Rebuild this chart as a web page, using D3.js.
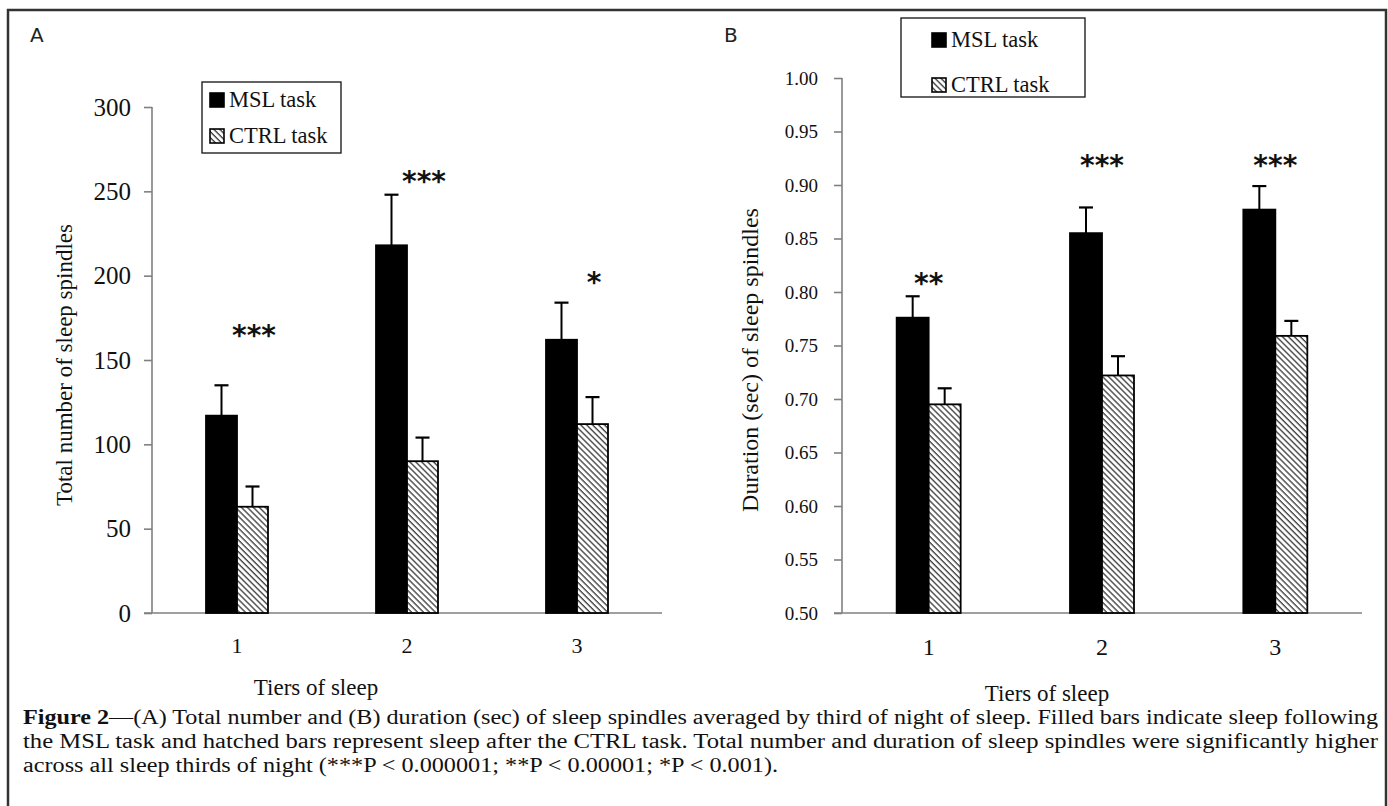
<!DOCTYPE html>
<html>
<head>
<meta charset="utf-8">
<script src="https://cdn.jsdelivr.net/npm/d3@7"></script>
<style>
  html, body { margin: 0; padding: 0; background: #fff; }
  svg { display: block; }
</style>
</head>
<body>
<svg id="chart" width="1388" height="806"></svg>
<script>
// ---------- data ----------
const tiers = ["1", "2", "3"];
const seriesNames = ["MSL task", "CTRL task"];

// Panel A: total number of sleep spindles
const countTicks = [0, 50, 100, 150, 200, 250, 300];
const mslCount = [117, 218, 162];
const mslCountErr = [18, 30, 22];
const ctrlCount = [63, 90, 112];
const ctrlCountErr = [12, 14, 16];
const countSig = ["***", "***", "*"];
const countSigLevel = [168, 259, 199];

// Panel B: duration (sec) of sleep spindles
const durTicks = [0.50, 0.55, 0.60, 0.65, 0.70, 0.75, 0.80, 0.85, 0.90, 0.95, 1.00];
const mslDur = [0.776, 0.855, 0.877];
const mslDurErr = [0.020, 0.024, 0.022];
const ctrlDur = [0.695, 0.722, 0.759];
const ctrlDurErr = [0.015, 0.018, 0.014];
const durSig = ["**", "***", "***"];
const durSigLevel = [0.813, 0.923, 0.923];

const captionLines = [
  [{b: true, t: "Figure 2"}, {b: false, t: "\u2014(A) Total number and (B) duration (sec) of sleep spindles averaged by third of night of sleep. Filled bars indicate sleep following"}],
  [{b: false, t: "the MSL task and hatched bars represent sleep after the CTRL task. Total number and duration of sleep spindles were significantly higher"}],
  [{b: false, t: "across all sleep thirds of night (***P < 0.000001; **P < 0.00001; *P < 0.001)."}]
];

// ---------- drawing ----------
const svg = d3.select("#chart");
const SERIF = "'Liberation Serif', 'Times New Roman', serif";

const defs = svg.append("defs");
const pat = defs.append("pattern")
  .attr("id", "hatch")
  .attr("patternUnits", "userSpaceOnUse")
  .attr("width", 4.2).attr("height", 10)
  .attr("patternTransform", "rotate(-45)");
pat.append("rect").attr("width", 4.2).attr("height", 10).attr("fill", "#fff");
pat.append("line").attr("x1", 1).attr("x2", 1).attr("y1", 0).attr("y2", 10)
  .attr("stroke", "#444").attr("stroke-width", 1.4);

// outer frame
svg.append("rect").attr("x", 8).attr("y", 10).attr("width", 1378).attr("height", 830)
  .attr("fill", "none").attr("stroke", "#333").attr("stroke-width", 2.5);

function panel(cfg) {
  const g = svg.append("g");
  const x = d3.scaleBand().domain(tiers).range(cfg.xr);
  const y = d3.scaleLinear().domain(cfg.yd).range(cfg.yr);

  // y axis
  const yAxis = d3.axisLeft(y).tickValues(cfg.ticks).tickFormat(cfg.fmt)
    .tickSize(8).tickPadding(cfg.tickPad);
  const ya = g.append("g").attr("transform", `translate(${cfg.xr[0]},0)`).call(yAxis);
  ya.select(".domain").attr("stroke", "#808080").attr("stroke-width", 1.6)
    .attr("d", `M0,${cfg.yr[0]}V${cfg.yr[1]}`);
  ya.selectAll(".tick line").attr("stroke", "#808080").attr("stroke-width", 1.6);
  ya.selectAll(".tick text").attr("font-family", SERIF).attr("font-size", cfg.tickFont).attr("fill", "#111");

  // x axis line
  g.append("line").attr("x1", cfg.xr[0] - 8).attr("x2", cfg.xr[1])
    .attr("y1", cfg.yr[0]).attr("y2", cfg.yr[0])
    .attr("stroke", "#808080").attr("stroke-width", 1.6);
  // x tick labels
  g.selectAll(".xl").data(tiers).join("text")
    .attr("x", d => x(d) + x.bandwidth() / 2)
    .attr("y", cfg.xLabelY)
    .attr("text-anchor", "middle")
    .attr("font-family", SERIF).attr("font-size", cfg.xLabelFont).attr("fill", "#111")
    .text(d => d);

  const bw = cfg.barW;
  const series = [
    {vals: cfg.msl, errs: cfg.mslErr, fill: "#000", off: -bw},
    {vals: cfg.ctrl, errs: cfg.ctrlErr, fill: "url(#hatch)", off: 0}
  ];
  series.forEach(s => {
    g.selectAll(null).data(tiers).join("line")
      .attr("x1", (d, i) => x(d) + x.bandwidth() / 2 + s.off + bw / 2)
      .attr("x2", (d, i) => x(d) + x.bandwidth() / 2 + s.off + bw / 2)
      .attr("y1", (d, i) => y(s.vals[i]))
      .attr("y2", (d, i) => y(s.vals[i] + s.errs[i]))
      .attr("stroke", "#000").attr("stroke-width", 2);
    g.selectAll(null).data(tiers).join("line")
      .attr("x1", (d, i) => x(d) + x.bandwidth() / 2 + s.off + bw / 2 - 7)
      .attr("x2", (d, i) => x(d) + x.bandwidth() / 2 + s.off + bw / 2 + 7)
      .attr("y1", (d, i) => y(s.vals[i] + s.errs[i]))
      .attr("y2", (d, i) => y(s.vals[i] + s.errs[i]))
      .attr("stroke", "#000").attr("stroke-width", 2.2);
    g.selectAll(null).data(tiers).join("rect")
      .attr("x", d => x(d) + x.bandwidth() / 2 + s.off)
      .attr("y", (d, i) => y(s.vals[i]))
      .attr("width", bw)
      .attr("height", (d, i) => y(cfg.yd[0]) - y(s.vals[i]))
      .attr("fill", s.fill)
      .attr("stroke", "#000").attr("stroke-width", 1.8);
  });

  // significance stars
  g.selectAll(".sig").data(tiers).join("text")
    .attr("x", d => x(d) + x.bandwidth() / 2 + cfg.sigDx)
    .attr("y", (d, i) => y(cfg.sigLevel[i]) + 15)
    .attr("text-anchor", "middle")
    .attr("font-family", "'DejaVu Sans', sans-serif").attr("font-weight", "bold")
    .attr("font-size", 28).attr("fill", "#111")
    .text((d, i) => cfg.sig[i]);

  // y title
  g.append("text")
    .attr("transform", `translate(${cfg.yTitle[0]},${cfg.yTitle[1]}) rotate(-90)`)
    .attr("text-anchor", "middle")
    .attr("font-family", SERIF).attr("font-size", cfg.yTitleFont).attr("fill", "#111")
    .text(cfg.yTitleText);
  // x title
  g.append("text")
    .attr("x", cfg.xTitle[0]).attr("y", cfg.xTitle[1])
    .attr("text-anchor", "middle")
    .attr("font-family", SERIF).attr("font-size", 23).attr("fill", "#111")
    .text("Tiers of sleep");

  // panel letter
  g.append("text").attr("x", cfg.letter[0]).attr("y", cfg.letter[1])
    .attr("font-family", "'DejaVu Sans', sans-serif").attr("font-size", 20).attr("fill", "#222")
    .text(cfg.letterText);

  // legend
  const L = cfg.legend;
  g.append("rect").attr("x", L.x).attr("y", L.y).attr("width", L.w).attr("height", L.h)
    .attr("fill", "#fff").attr("stroke", "#222").attr("stroke-width", 1.4);
  seriesNames.forEach((name, i) => {
    const ry = L.y + L.row0 + i * L.rowGap;
    g.append("rect").attr("x", L.x + L.sx).attr("y", ry - 14).attr("width", 14).attr("height", 14)
      .attr("fill", i === 0 ? "#000" : "url(#hatch)").attr("stroke", "#000").attr("stroke-width", 1.6);
    g.append("text").attr("x", L.x + L.sx + 19).attr("y", ry)
      .attr("font-family", SERIF).attr("font-size", L.font).attr("fill", "#111")
      .text(name);
  });
}

panel({
  xr: [152, 662], yr: [613, 107], yd: [0, 300], ticks: countTicks, fmt: d3.format("d"),
  tickPad: 13, tickFont: 25, xLabelY: 653, xLabelFont: 22, barW: 31,
  msl: mslCount, mslErr: mslCountErr, ctrl: ctrlCount, ctrlErr: ctrlCountErr,
  sig: countSig, sigLevel: countSigLevel, sigDx: 17,
  yTitle: [72, 365], yTitleFont: 23, yTitleText: "Total number of sleep spindles",
  xTitle: [316, 695], letter: [30, 42], letterText: "A",
  legend: {x: 202, y: 82, w: 139, h: 71, row0: 25, rowGap: 36, sx: 8, font: 22.5}
});

panel({
  xr: [842, 1362], yr: [613, 78], yd: [0.5, 1.0], ticks: durTicks, fmt: d3.format(".2f"),
  tickPad: 16, tickFont: 19, xLabelY: 655, xLabelFont: 24, barW: 32,
  msl: mslDur, mslErr: mslDurErr, ctrl: ctrlDur, ctrlErr: ctrlDurErr,
  sig: durSig, sigLevel: durSigLevel, sigDx: 0,
  yTitle: [758, 360], yTitleFont: 24, yTitleText: "Duration (sec) of sleep spindles",
  xTitle: [1047, 701], letter: [724, 42], letterText: "B",
  legend: {x: 901, y: 18, w: 184, h: 79, row0: 29, rowGap: 45, sx: 31, font: 22.5}
});

// caption: lines stretched to the widths measured in the figure
const capX0 = 23, capY = [724, 748, 772], capW = [1355, 1355, 755];
captionLines.forEach((parts, li) => {
  const t = svg.append("text").attr("x", capX0).attr("y", capY[li])
    .attr("font-family", SERIF).attr("font-size", 20.5).attr("fill", "#111")
    .attr("textLength", capW[li]).attr("lengthAdjust", "spacingAndGlyphs");
  parts.forEach(p => t.append("tspan").attr("font-weight", p.b ? "bold" : "normal").text(p.t));
});
</script>
</body>
</html>
